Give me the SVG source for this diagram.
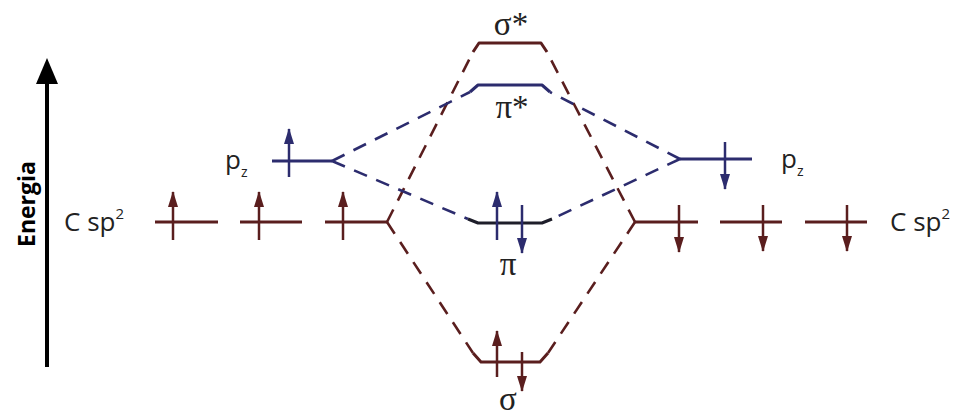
<svg xmlns="http://www.w3.org/2000/svg" width="969" height="414" viewBox="0 0 969 414">
<defs>
<style>
.red{stroke:#5a1e1e;fill:none;stroke-width:3;stroke-linejoin:round}
.blue{stroke:#2c2c6e;fill:none;stroke-width:3;stroke-linejoin:round}
.blk{stroke:#1e1e2a;fill:none;stroke-width:3;stroke-linejoin:round}
.dr{stroke:#5a1e1e;fill:none;stroke-width:2.6;stroke-dasharray:14 10}
.db{stroke:#2c2c6e;fill:none;stroke-width:2.6;stroke-dasharray:14 10}
.ar{stroke:#5a1e1e;stroke-width:2.5;marker-end:url(#hr)}
.ab{stroke:#2c2c6e;stroke-width:2.5;marker-end:url(#hb)}
.lbl{font-family:"Open Sans","Liberation Sans",sans-serif;font-size:26px;fill:#222}
.gr{font-family:"Liberation Serif","DejaVu Serif",serif;font-size:33px;fill:#222}
</style>
<marker id="hr" viewBox="0 0 16 10" refX="15" refY="5" markerWidth="16" markerHeight="10" markerUnits="userSpaceOnUse" orient="auto"><path d="M0,0 L16,5 L0,10 Z" fill="#5a1e1e"/></marker>
<marker id="hb" viewBox="0 0 16 10" refX="15" refY="5" markerWidth="16" markerHeight="10" markerUnits="userSpaceOnUse" orient="auto"><path d="M0,0 L16,5 L0,10 Z" fill="#2c2c6e"/></marker>
</defs>
<rect width="969" height="414" fill="#fff"/>

<g id="energy-axis">
<line x1="47" y1="367" x2="47" y2="80" stroke="#000" stroke-width="4"/>
<polygon points="36,84 47,58 58,84" fill="#000"/>
<text transform="translate(35,204) rotate(-90)" text-anchor="middle" font-family="'Open Sans','Liberation Sans',sans-serif" font-weight="bold" font-size="23" fill="#000">Energia</text>
</g>

<g id="connectors">
<line class="dr" x1="387" y1="222" x2="473" y2="52"/>
<line class="dr" x1="387" y1="222" x2="473" y2="353"/>
<line class="dr" x1="635" y1="222" x2="547" y2="52"/>
<line class="dr" x1="635" y1="222" x2="548" y2="353"/>
<line class="db" x1="332" y1="161" x2="470" y2="92"/>
<line class="db" x1="332" y1="161" x2="468" y2="219"/>
<line class="db" x1="680" y1="159" x2="550" y2="92"/>
<line class="db" x1="680" y1="159" x2="552" y2="219"/>
</g>

<g id="left-sp2">
<text class="lbl" x="64" y="231">C sp<tspan font-size="15" dy="-12">2</tspan></text>
<line class="red" x1="155" y1="222" x2="218" y2="222"/>
<line class="ar" x1="173" y1="240" x2="173" y2="192"/>
<line class="red" x1="240" y1="222" x2="302" y2="222"/>
<line class="ar" x1="259" y1="240" x2="259" y2="192"/>
<line class="red" x1="325" y1="222" x2="387" y2="222"/>
<line class="ar" x1="343" y1="240" x2="343" y2="192"/>
</g>

<g id="left-pz">
<text class="lbl" x="225" y="169" font-size="28">p<tspan font-size="14" dy="8">z</tspan></text>
<line class="blue" x1="272" y1="161" x2="332" y2="161"/>
<line class="ab" x1="289" y1="177" x2="289" y2="129"/>
</g>

<g id="sigma-star">
<path class="red" d="M473,52 L479,43 L541,43 L547,52"/>
<text class="gr" x="511" y="35" text-anchor="middle">σ*</text>
</g>

<g id="pi-star">
<path class="blue" d="M470,92 L478,85 L542,85 L550,92"/>
<text class="gr" x="512" y="118" text-anchor="middle">π*</text>
</g>

<g id="pi">
<path class="blk" d="M468,219 L478,223 L542,223 L552,219"/>
<line class="ab" x1="497" y1="240" x2="497" y2="192"/>
<line class="ab" x1="522" y1="205" x2="522" y2="253"/>
<text class="gr" x="508" y="275" text-anchor="middle">π</text>
</g>

<g id="sigma">
<path class="red" d="M473,353 L481,362 L540,362 L548,353"/>
<line class="ar" x1="497" y1="377" x2="497" y2="331"/>
<line class="ar" x1="522" y1="352" x2="522" y2="391"/>
<text class="gr" x="508" y="410" text-anchor="middle">σ</text>
</g>

<g id="right-pz">
<line class="blue" x1="680" y1="159" x2="752" y2="159"/>
<line class="ab" x1="725" y1="142" x2="725" y2="189"/>
<text class="lbl" x="781" y="168" font-size="28">p<tspan font-size="14" dy="8">z</tspan></text>
</g>

<g id="right-sp2">
<line class="red" x1="635" y1="222" x2="698" y2="222"/>
<line class="ar" x1="679" y1="205" x2="679" y2="252"/>
<line class="red" x1="720" y1="222" x2="782" y2="222"/>
<line class="ar" x1="763" y1="205" x2="763" y2="251"/>
<line class="red" x1="805" y1="222" x2="867" y2="222"/>
<line class="ar" x1="847" y1="205" x2="847" y2="251"/>
<text class="lbl" x="890" y="231">C sp<tspan font-size="15" dy="-12">2</tspan></text>
</g>
</svg>
